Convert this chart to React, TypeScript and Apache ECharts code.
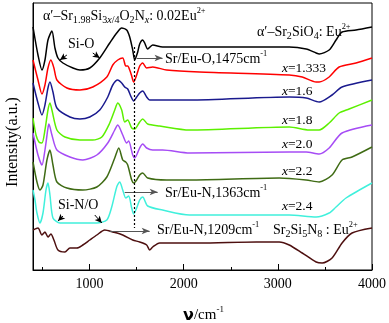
import React, { useEffect, useRef } from "react";
import * as echarts from "echarts";

const FONT = "'Liberation Serif', 'Times New Roman', serif";

// wavenumber (cm-1), offset intensity (a.u.)
const sr2sio4 = [[400,243],[453,215],[495,200],[527,210],[559,230],[601,239],[633,222],[665,212],[718,207],[824,202],[898,200],[1003,202],[1109,212],[1215,227],[1289,237],[1342,242],[1395,240],[1427,233],[1459,220],[1480,210],[1512,218],[1533,226],[1565,230],[1586,227],[1618,221],[1671,225],[1776,223],[2168,223],[3121,223],[3301,221],[3407,217],[3439,216],[3545,220],[3618,230],[3682,238],[3830,240],[4000,243]];
const x1333 = [[400,210],[453,190],[495,176],[527,185],[559,202],[590,210],[622,202],[654,190],[760,182],[898,180],[1035,183],[1184,193],[1247,205],[1300,210],[1353,212],[1385,204],[1406,204],[1427,200],[1448,194],[1469,188],[1501,195],[1533,204],[1565,207],[1607,202],[1671,203],[1819,200],[2168,198],[3121,195],[3259,193],[3407,188],[3439,188],[3545,193],[3651,203],[3830,207],[4000,212]];
const x16 = [[400,187],[453,167],[495,155],[527,165],[559,182],[580,188],[612,178],[654,162],[792,153],[898,151],[1003,153],[1109,160],[1194,173],[1247,185],[1300,190],[1342,187],[1374,183],[1406,181],[1438,174],[1469,169],[1501,173],[1533,177],[1565,179],[1607,173],[1639,170],[1776,170],[2062,170],[3121,173],[3301,172],[3439,168],[3576,175],[3682,183],[4000,190]];
const x18 = [[400,152],[432,135],[463,128],[495,127],[527,140],[559,160],[580,167],[601,160],[654,140],[739,133],[898,130],[1035,130],[1131,133],[1215,147],[1268,160],[1300,167],[1342,160],[1374,148],[1406,150],[1448,142],[1480,141],[1533,148],[1565,151],[1618,146],[1745,144],[2062,140],[3121,143],[3333,140],[3439,140],[3545,147],[3651,157],[3757,161],[4000,170]];
const x20 = [[400,137],[453,115],[495,105],[527,120],[559,142],[569,146],[601,135],[654,120],[792,113],[929,110],[1078,115],[1194,127],[1268,140],[1300,145],[1353,135],[1395,127],[1416,129],[1459,115],[1480,112],[1533,122],[1565,126],[1607,122],[1671,120],[1776,120],[2062,117],[3121,118],[3301,118],[3439,116],[3545,122],[3682,137],[4000,145]];
const x22 = [[400,108],[442,88],[474,80],[506,85],[548,110],[580,120],[612,105],[654,88],[760,82],[929,80],[1078,83],[1184,93],[1268,112],[1311,122],[1353,110],[1385,108],[1406,105],[1448,90],[1469,87],[1501,90],[1533,95],[1565,97],[1618,92],[1819,90],[2062,90],[3015,92],[3301,90],[3439,88],[3576,95],[3682,110],[3788,113],[4000,123]];
const x24 = [[400,80],[421,70],[442,57],[474,47],[506,57],[538,80],[559,87],[580,75],[612,52],[686,47],[898,47],[1078,47],[1184,50],[1236,63],[1289,83],[1321,88],[1353,80],[1385,72],[1416,74],[1448,62],[1469,56],[1501,62],[1533,70],[1565,73],[1618,64],[1776,60],[2062,55],[3121,55],[3407,53],[3545,57],[3618,63],[3724,72],[4000,87]];
const sr2si5n8 = [[400,40],[453,42],[495,35],[527,38],[559,33],[590,36],[622,30],[665,20],[739,18],[792,22],[866,22],[929,25],[1003,30],[1078,35],[1162,40],[1247,38],[1353,35],[1459,30],[1533,28],[1607,25],[1639,20],[1671,23],[1745,27],[2168,27],[2772,28],[3015,28],[3121,25],[3259,17],[3407,8],[3471,7],[3576,12],[3682,27],[3788,37],[4000,42]];

const seriesList = [
  { name: "Sr2SiO4", data: sr2sio4, color: "#000000" },
  { name: "x=1.333", data: x1333, color: "#ff0000" },
  { name: "x=1.6", data: x16, color: "#1a1a8e" },
  { name: "x=1.8", data: x18, color: "#5cf000" },
  { name: "x=2.0", data: x20, color: "#a64cf5" },
  { name: "x=2.2", data: x22, color: "#3f6b14" },
  { name: "x=2.4", data: x24, color: "#40f0dc" },
  { name: "Sr2Si5N8", data: sr2si5n8, color: "#4d0f0f" },
];

const majorTicks = [1000, 2000, 3000, 4000];
const minorTicks = [500, 1500, 2500, 3500];

// annotation arrows [from, to] in data coordinates
const arrows = [
  [[760, 215], [686, 210]],
  [[1035, 217], [1109, 212]],
  [[718, 54], [665, 49]],
  [[1056, 55], [1131, 47]],
];
const grayArrows = [
  [[1501, 212], [1776, 212]],
  [[1374, 78], [1724, 78]],
  [[1215, 39], [1639, 39]],
];
const dashedLine = [[1475, 223], [1475, 42]];

function rich(size: number) {
  const base = { fontFamily: FONT, color: "#000" };
  return {
    n: { ...base, fontSize: size, lineHeight: size + 2 },
    i: { ...base, fontSize: size, fontStyle: "italic", lineHeight: size + 2 },
    sub: { ...base, fontSize: size * 0.72, lineHeight: size * 0.72, padding: [size * 0.6, 0, 0, 0] },
    subi: { ...base, fontSize: size * 0.72, fontStyle: "italic", lineHeight: size * 0.72, padding: [size * 0.6, 0, 0, 0] },
    sup: { ...base, fontSize: size * 0.6, lineHeight: size * 0.6, padding: [0, 0, size * 0.7, 0] },
    nu: { fontFamily: "'DejaVu Sans', sans-serif", fontWeight: "bold", color: "#000", fontSize: size + 1, lineHeight: size + 2 },
  };
}

function txt(x: number, y: number, text: string, size = 14, extra: any = {}) {
  return {
    type: "text",
    x,
    y,
    silent: true,
    ...extra,
    style: {
      text,
      rich: rich(size),
      font: `${size}px ${FONT}`,
      fill: "#000",
      align: extra.align || "left",
      verticalAlign: "middle",
    },
  };
}

export default function App() {
  const ref = useRef<HTMLDivElement>(null);
  useEffect(() => {
    const chart = echarts.init(ref.current!, null, { renderer: "svg" });
    const mlData: any[] = [];
    arrows.forEach((a) =>
      mlData.push([
        { coord: a[0], symbol: "none", lineStyle: { color: "#000", width: 1, type: "solid" } },
        { coord: a[1], symbol: "arrow", symbolSize: [5, 7] },
      ])
    );
    grayArrows.forEach((a) =>
      mlData.push([
        { coord: a[0], symbol: "none", lineStyle: { color: "#555", width: 1, type: "solid" } },
        { coord: a[1], symbol: "arrow", symbolSize: [5, 8] },
      ])
    );
    mlData.push([
      { coord: dashedLine[0], symbol: "none", lineStyle: { color: "#000", width: 1.2, type: [2, 2] } },
      { coord: dashedLine[1], symbol: "none" },
    ]);

    const option: any = {
      animation: false,
      grid: { left: 33, right: 16, top: 3, bottom: 53, show: true, borderColor: "#000", borderWidth: 1, containLabel: false },
      xAxis: [
        {
          type: "value",
          min: 400,
          max: 4000,
          axisLine: { lineStyle: { color: "#000", width: 1 } },
          axisTick: { inside: true, length: 6, lineStyle: { color: "#000" }, customValues: majorTicks },
          axisLabel: { customValues: majorTicks, formatter: (v: number) => String(v), fontFamily: FONT, fontSize: 14, color: "#000", margin: 6 },
          splitLine: { show: false },
        },
        {
          type: "value",
          min: 400,
          max: 4000,
          position: "bottom",
          axisLine: { show: false },
          axisTick: { inside: true, length: 3, lineStyle: { color: "#000" }, customValues: minorTicks },
          axisLabel: { show: false },
          splitLine: { show: false },
        },
      ],
      yAxis: {
        type: "value",
        min: 0,
        max: 267,
        axisLine: { show: true, lineStyle: { color: "#000" } },
        axisTick: { show: false },
        axisLabel: { show: false },
        splitLine: { show: false },
      },
      series: seriesList.map((s, idx) => ({
        type: "line",
        name: s.name,
        data: s.data,
        showSymbol: false,
        smooth: 0.25,
        lineStyle: { color: s.color, width: 1.5 },
        itemStyle: { color: s.color },
        silent: true,
        z: 2,
        markLine:
          idx === 0
            ? { silent: true, animation: false, label: { show: false }, emphasis: { disabled: true }, data: mlData }
            : undefined,
      })),
      graphic: [
        txt(43, 15, "{n|α′–Sr}{sub|1.98}{n|Si}{sub|3}{subi|x}{sub|/4}{n|O}{sub|2}{n|N}{subi|x}{n|: 0.02Eu}{sup|2+}", 14),
        txt(257, 31, "{n|α′–Sr}{sub|2}{n|SiO}{sub|4}{n|: Eu}{sup|2+}", 14),
        txt(68, 43, "{n|Si-O}", 14),
        txt(165, 58, "{n|Sr/Eu-O,1475cm}{sup|-1}", 14),
        txt(282, 67, "{i|x}{n|=1.333}", 13.5),
        txt(282, 90, "{i|x}{n|=1.6}", 13.5),
        txt(282, 119, "{i|x}{n|=1.8}", 13.5),
        txt(282, 143, "{i|x}{n|=2.0}", 13.5),
        txt(282, 170, "{i|x}{n|=2.2}", 13.5),
        txt(282, 205, "{i|x}{n|=2.4}", 13.5),
        txt(165, 192, "{n|Sr/Eu-N,1363cm}{sup|-1}", 14),
        txt(58, 204, "{n|Si-N/O}", 14),
        txt(157, 229, "{n|Sr/Eu-N,1209cm}{sup|-1}", 14),
        txt(273, 229, "{n|Sr}{sub|2}{n|Si}{sub|5}{n|N}{sub|8}{n| : Eu}{sup|2+}", 14),
        txt(183, 314, "{nu|ν}{n|/cm}{sup|-1}", 15),
        txt(11, 142, "{n|Intensity(a.u.)}", 16, { rotation: Math.PI / 2, align: "center" }),
      ],
    };
    chart.setOption(option);
    return () => chart.dispose();
  }, []);
  return <div ref={ref} style={{ position: "fixed", left: 0, top: 0, width: 389, height: 323 }} />;
}
